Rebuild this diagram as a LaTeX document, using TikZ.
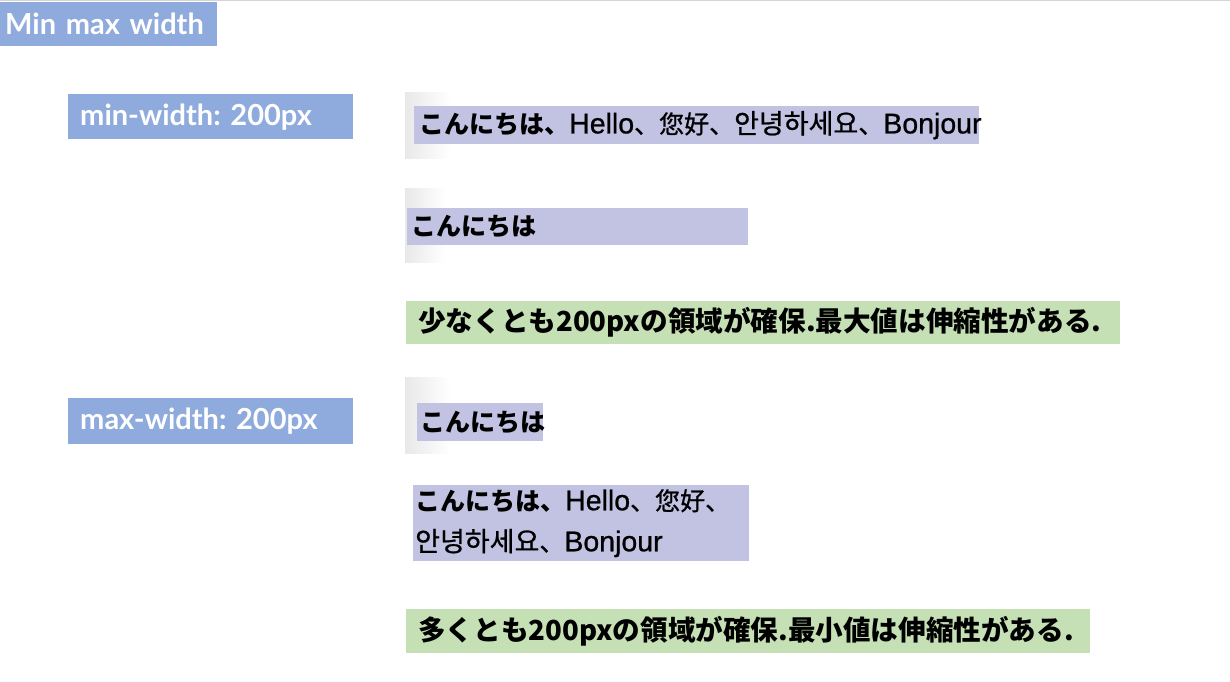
\documentclass[tikz,border=0pt]{standalone}
\usepackage{fontspec}
\setmainfont{Noto Sans CJK JP}
\newfontfamily\cjk{Noto Sans CJK JP}
\newfontfamily\cjkm{Noto Sans CJK JP}[FakeBold=0.8]
\newfontfamily\lat{Liberation Sans}[FakeBold=0.8]
\newfontfamily\lab{Lato}
\definecolor{lblue}{HTML}{8FAADC}
\definecolor{lpurple}{HTML}{C2C2E2}
\definecolor{lgreen}{HTML}{C5E0B4}
\definecolor{topline}{HTML}{D4D4D4}
\newcommand{\kb}[1]{{\cjk\bfseries #1}}
\newcommand{\km}[1]{{\cjkm #1}}
\newcommand{\ko}[1]{{\cjkm\fontsize{27}{41}\selectfont #1}}
\newcommand{\la}[1]{{\lat\fontsize{28.5}{41}\selectfont #1}}
\frenchspacing
\begin{document}
\begin{tikzpicture}[x=1pt,y=-1pt,
  box/.style={anchor=north west, inner ysep=0pt, align=left, minimum height=#1},
  label/.style={box=#1, fill=lblue, text=white, font=\fontsize{29}{30}\selectfont\lab\bfseries},
  sample/.style={box=#1, fill=lpurple, text=black, font=\fontsize{25}{41}\selectfont},
  note/.style={box=#1, fill=lgreen, text=black, font=\fontsize{27.6}{30}\selectfont\cjk\bfseries},
  shadow/.style={left color=gray!18, right color=white, draw=none}]
\useasboundingbox (0,0) rectangle (1230,681);
\fill[white] (0,0) rectangle (1230,681);
\draw[topline, line width=1.2pt] (0,0.6) -- (1230,0.6);
% title
\node[label=44pt, inner xsep=5pt, text width=207pt, font=\fontsize{29}{30}\selectfont\lab\bfseries] (title) at (0,2) {\mbox{Min max width}};
% min-width section
\node[label=45pt, inner xsep=12pt, text width=261pt] (minlbl) at (68,94) {\mbox{min-width: 200px}};
\shade[shadow] (405,92) rectangle (450,158);
\node[sample=38pt, inner xsep=5pt, text width=555pt] (minA) at (414,106) {\mbox{\kb{こんにちは、}\la{Hello}\km{、您好、}\ko{안녕하세요}\km{、}\la{Bonjour}}};
\shade[shadow] (405,188) rectangle (445,262);
\node[sample=37pt, inner xsep=4pt, text width=333pt] (minB) at (407,208) {\kb{こんにちは}};
\node[note=43pt, inner xsep=12pt, text width=690pt] (minnote) at (406,301) {\mbox{少なくとも200pxの領域が確保.最大値は伸縮性がある.}};
% max-width section
\node[label=46pt, inner xsep=12pt, text width=261pt] (maxlbl) at (68,398) {\mbox{max-width: 200px}};
\shade[shadow] (405,377) rectangle (450,453);
\node[sample=38pt, inner xsep=3pt, text width=120pt] (maxA) at (417,403) {\kb{こんにちは}};
\node[sample=76pt, inner xsep=2pt, text width=332pt] (maxB) at (413,485) {\mbox{\kb{こんにちは、}\la{Hello}\km{、您好、}}\\\mbox{\ko{안녕하세요}\km{、}\la{Bonjour}}};
\node[note=44pt, inner xsep=12pt, text width=660pt] (maxnote) at (406,609) {\mbox{多くとも200pxの領域が確保.最小値は伸縮性がある.}};
\end{tikzpicture}
\end{document}
